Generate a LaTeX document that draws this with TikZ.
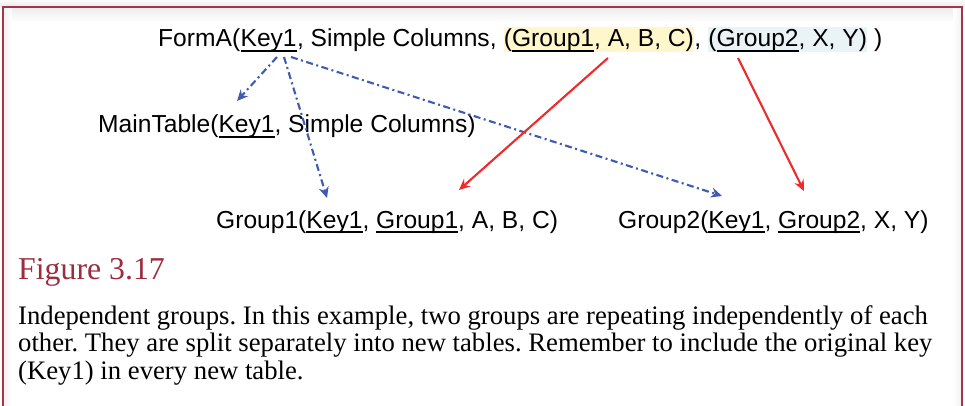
\documentclass[tikz,border=0pt]{standalone}
\usepackage{fontspec}
\setmainfont{Liberation Sans}
\newfontfamily\capserif{Liberation Serif}
\newfontfamily\figserif{Liberation Serif}
\usetikzlibrary{arrows.meta}
\frenchspacing
\definecolor{framered}{HTML}{A3344A}
\definecolor{figred}{HTML}{9B2D40}
\definecolor{arrblue}{HTML}{3E5BB0}
\definecolor{arrred}{HTML}{EE2A2A}
\definecolor{hlyellow}{HTML}{FFF6CC}
\definecolor{hlblue}{HTML}{EAF4F6}
\newsavebox\ulbox
\newcommand\ulw[1]{\sbox\ulbox{#1}\rlap{\rule[-4.6pt]{\wd\ulbox}{1.6pt}}\usebox\ulbox}
\tikzset{
  schema/.style={font=\fontsize{24.6}{29}\selectfont, inner sep=0pt, anchor=base west, text=black},
  hlbox/.style={schema, text height=20pt, text depth=5pt},
  captext/.style={font=\capserif\fontsize{26.7}{27.5}\selectfont, inner sep=0pt, anchor=base west, text=black},
  keyarrow/.style={arrblue, line width=2.1pt, dash pattern=on 7pt off 3.5pt on 2pt off 3.5pt, -{Stealth[length=11pt,width=10pt]}},
  grouparrow/.style={arrred, line width=2.1pt, -{Stealth[length=11pt,width=10pt]}}
}
\begin{document}
\begin{tikzpicture}[x=1pt,y=-1pt]
\fill[white] (0,0) rectangle (965,406);
\useasboundingbox (0,0) rectangle (965,406);
\shade[top color=gray!4, bottom color=gray!16] (0,0) rectangle (965,7);
\shade[top color=gray!14, bottom color=white] (4,8) rectangle (961,22);
\shade[left color=gray!10, right color=white] (4,8) rectangle (12,406);
\shade[left color=white, right color=gray!10] (953,8) rectangle (961,406);
\draw[framered, line width=1.5pt] (3,406) -- (3,7) -- (962,7) -- (962,406);

% FormA line
\node[schema] (fa) at (158,47) {FormA(};
\node[schema] (k) at (fa.base east) {\ulw{Key1}};
\node[schema] (sc) at (k.base east) {, Simple Columns,\ \mbox{}};
\node[hlbox, fill=hlyellow] (g1) at (sc.base east) {(\ulw{Group1}, A, B, C)};
\node[schema] (cm) at (g1.base east) {,\ \mbox{}};
\node[hlbox, fill=hlblue] (g2) at (cm.base east) {(\ulw{Group2}, X, Y)};
\node[schema] (cl) at (g2.base east) {\mbox{}\ )};

\node[schema] (mt) at (98,133) {MainTable(\ulw{Key1}, Simple Columns)};
\node[schema] (t1) at (216,228) {Group1(\ulw{Key1}, \ulw{Group1}, A, B, C)};
\node[schema] (t2) at (618,228) {Group2(\ulw{Key1}, \ulw{Group2}, X, Y)};

\node[font=\figserif\fontsize{31.8}{36}\selectfont, text=figred, anchor=base west, inner sep=0pt] (fig) at (18,279) {Figure 3.17};
\node[captext] (c1) at (18,324) {Independent groups. In this example, two groups are repeating independently of each};
\node[captext] (c2) at (18,351.5) {other. They are split separately into new tables. Remember to include the original key};
\node[captext] (c3) at (18,379) {(Key1) in every new table.};

% arrow ends
\coordinate (b1s) at (277,57);
\coordinate (b2s) at (284,57);
\coordinate (b3s) at (291,57);
\coordinate (b1e) at (237,101);
\coordinate (b2e) at (327,198);
\coordinate (b3e) at (722,196);
\coordinate (r1s) at (608,58);
\coordinate (r1e) at (459,190);
\coordinate (r2s) at (738,58);
\coordinate (r2e) at (804,191);

\draw[keyarrow] (b1s) -- (b1e);
\draw[keyarrow] (b2s) -- (b2e);
\draw[keyarrow] (b3s) -- (b3e);
\draw[grouparrow] (r1s) -- (r1e);
\draw[grouparrow] (r2s) -- (r2e);
\end{tikzpicture}
\end{document}
